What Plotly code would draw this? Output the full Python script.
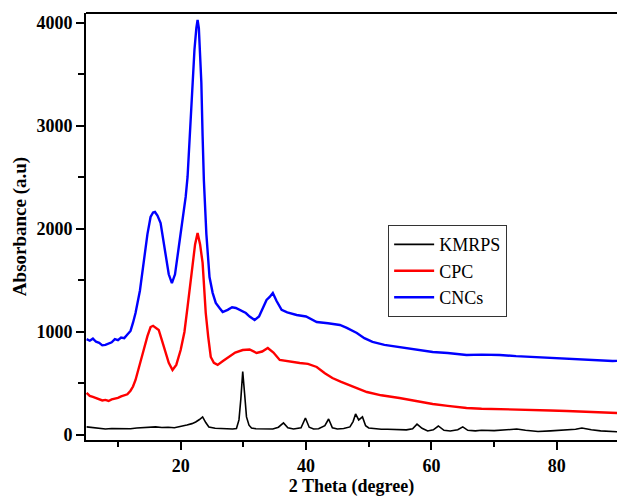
import plotly.graph_objects as go

# ---- data ----
cnc_x = [5, 5.5, 6, 6.5, 7, 7.5, 8, 8.5, 9, 9.5, 10, 10.5, 11, 11.5, 12, 12.4, 12.8, 13.5, 14.1, 14.7,
         15.2, 15.6, 15.9, 16.3, 16.8, 17.2, 17.6, 18.1, 18.6, 19.1, 19.7, 20.3, 20.8, 21.1, 21.4,
         21.75, 22.0, 22.2, 22.5, 22.7, 22.9, 23.1, 23.3, 23.5, 23.7, 24.1, 24.6, 25.1, 25.6, 26.2,
         26.7, 27.5, 28.2, 28.8, 29.4, 30.4, 31.0, 31.8, 32.5, 33.2, 33.7, 34.2, 34.7, 35.3, 36.1,
         37.0, 38.5, 40, 41.7, 43.5, 45.4, 46.5, 48.1, 49.3, 50.6, 52.5, 54.9, 57.5, 60.2, 62.6,
         65.6, 68, 70.9, 73.5, 76.1, 79, 81.6, 85, 88.9, 90]
cnc_y = [930, 915, 935, 905, 895, 870, 874, 885, 900, 930, 920, 945, 940, 975, 1010, 1090, 1184,
         1400, 1670, 1950, 2117, 2160, 2165, 2130, 2058, 1900, 1728, 1560, 1475, 1560, 1825, 2080,
         2311, 2505, 2850, 3250, 3550, 3740, 3950, 4030, 3950, 3700, 3420, 2900, 2476, 1950, 1534,
         1380, 1282, 1233, 1194, 1215, 1240, 1233, 1214, 1184, 1150, 1116, 1150, 1250, 1311, 1340,
         1379, 1300, 1214, 1190, 1165, 1150, 1097, 1085, 1068, 1040, 990, 940, 903, 875, 854, 830,
         806, 796, 777, 780, 777, 765, 757, 750, 738, 730, 718, 720]

cpc_x = [5, 5.5, 6, 6.5, 7, 7.5, 8, 8.5, 9, 9.5, 10, 10.5, 11, 11.5, 12, 12.4, 12.8, 13.5, 14.1,
         14.7, 15.2, 15.6, 16.0, 16.5, 17.0, 17.6, 18.1, 18.7, 19.3, 20.0, 20.6, 21.1, 21.5, 21.9,
         22.3, 22.7, 23.1, 23.5, 24.0, 24.4, 24.8, 25.3, 25.9, 26.8, 27.7, 28.7, 29.9, 31.0, 32.1,
         33.0, 33.9, 34.8, 35.8, 37.4, 39.0, 40.3, 41.7, 43, 44.2, 45.6, 47.0, 48.3, 49.7, 52, 54.9,
         57.5, 60.2, 62.6, 65.6, 68, 70.9, 73.5, 76.1, 79, 81.6, 85, 88.9, 90]
cpc_y = [408, 380, 370, 360, 350, 335, 340, 330, 345, 350, 360, 375, 388, 395, 430, 470, 534, 680,
         825, 960, 1048, 1060, 1045, 1019, 920, 796, 700, 631, 680, 825, 1000, 1243, 1450, 1670,
         1850, 1961, 1850, 1670, 1184, 950, 757, 700, 680, 720, 757, 800, 825, 830, 796, 810, 844,
         800, 728, 710, 699, 690, 660, 600, 553, 515, 485, 450, 417, 385, 359, 330, 301, 282, 262,
         255, 252, 248, 243, 238, 233, 225, 214, 212]

kmr_x = [5, 6, 7, 8, 9, 10, 11, 12, 13, 14, 15, 16, 17, 18, 19, 20, 21, 21.8, 22.4, 23.0, 23.5,
         24.0, 24.5, 25.5, 26.5, 27.5, 28.3, 28.9, 29.3, 29.6, 29.9, 30.2, 30.5, 30.9, 31.3, 32,
         33, 34, 34.7, 35.6, 36.4, 37.1, 38, 39.2, 39.9, 40.5, 41.2, 42, 43.0, 43.6, 44.2, 45, 46,
         47.0, 47.5, 47.9, 48.4, 49.0, 49.5, 50.0, 51, 52, 53, 54, 55, 56, 57.0, 57.7, 58.5, 59.4,
         60.3, 61.1, 62, 63, 64.2, 65, 65.8, 67, 68, 70, 72, 73.6, 75, 77, 79, 81, 83, 84, 85.5,
         87, 88.9, 90]
kmr_y = [78, 70, 60, 58, 62, 60, 65, 60, 68, 70, 75, 78, 72, 75, 70, 80, 97, 110, 126, 150, 175,
         120, 78, 65, 60, 58, 58, 62, 146, 350, 615, 400, 175, 95, 68, 60, 58, 60, 58, 75, 117,
         70, 58, 70, 165, 75, 58, 60, 90, 155, 70, 58, 62, 78, 130, 204, 146, 175, 90, 68, 60, 55,
         55, 52, 50, 49, 60, 105, 65, 39, 50, 87, 45, 39, 50, 78, 45, 40, 45, 42, 50, 58, 45, 34,
         40, 45, 55, 68, 50, 40, 29, 30]

series_names = ["KMRPS", "CPC", "CNCs"]
series_colors = ["#000000", "#ff0000", "#0000ff"]
series_widths = [1.6, 2.4, 2.4]

fig = go.Figure()
for name, xs, ys, col, w in zip(series_names, [kmr_x, cpc_x, cnc_x], [kmr_y, cpc_y, cnc_y],
                                series_colors, series_widths):
    fig.add_trace(go.Scatter(x=xs, y=ys, mode="lines", name=name,
                             line=dict(color=col, width=w)))

serif = "Liberation Serif, Times New Roman, serif"
fig.update_layout(
    width=617, height=497,
    margin=dict(l=86, r=0, t=13, b=57),
    plot_bgcolor="white", paper_bgcolor="white",
    font=dict(family=serif, color="black"),
    showlegend=True,
    legend=dict(x=0.569, y=0.503, xanchor="left", yanchor="top",
                bordercolor="#333333", borderwidth=1, bgcolor="white",
                font=dict(family=serif, size=18, color="black"),
                tracegroupgap=0, itemwidth=40),
    xaxis=dict(range=[4.9, 89.6], tickvals=[20, 40, 60, 80], ticks="outside", ticklen=8,
               tickwidth=1.5, tickcolor="black", showline=True, linecolor="black", linewidth=2,
               showgrid=False, zeroline=False,
               tickfont=dict(family=serif, size=18, color="black", weight="bold"),
               minor=dict(tickvals=[10, 30, 50, 70, 90], ticks="outside", ticklen=5,
                          tickwidth=1.5, tickcolor="black", showgrid=False),
               title=dict(text="2 Theta (degree)", standoff=4,
                          font=dict(family=serif, size=18, color="black", weight="bold"))),
    yaxis=dict(range=[-49, 4097], tickvals=[0, 1000, 2000, 3000, 4000], ticks="outside",
               ticklen=8, tickwidth=1.5, tickcolor="black", showline=True, linecolor="black",
               linewidth=2, showgrid=False, zeroline=False,
               tickfont=dict(family=serif, size=18, color="black", weight="bold"),
               minor=dict(tickvals=[500, 1500, 2500, 3500], ticks="outside", ticklen=6,
                          tickwidth=1.5, tickcolor="black", showgrid=False),
               title=dict(text="Absorbance (a.u)", standoff=5,
                          font=dict(family=serif, size=19, color="black", weight="bold"))),
)
# top border line
fig.add_shape(type="line", xref="paper", yref="paper", x0=0, x1=1, y0=1, y1=1,
              line=dict(color="black", width=2))

fig.write_html("out.html")
